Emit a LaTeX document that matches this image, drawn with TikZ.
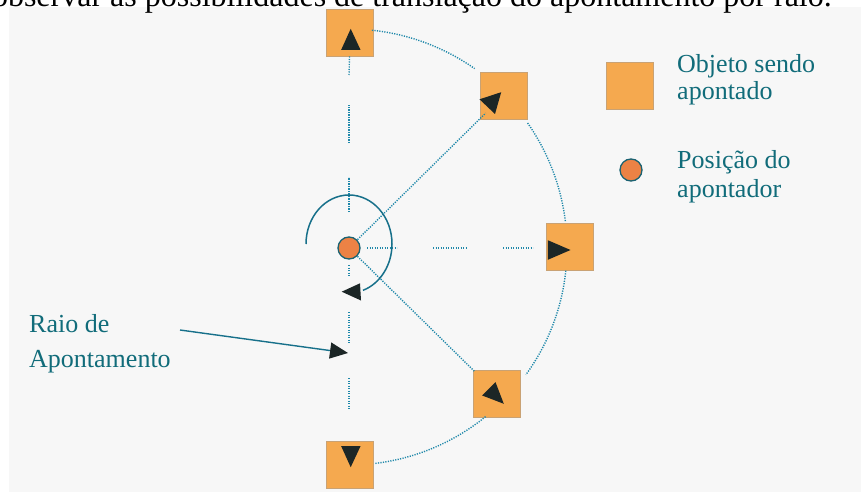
\documentclass[tikz,border=0pt]{standalone}
\usepackage{fontspec}
\setmainfont{Liberation Serif}
\usetikzlibrary{arrows.meta,calc}
\definecolor{panel}{HTML}{F7F7F7}
\definecolor{sq}{HTML}{F5A94F}
\definecolor{sqedge}{HTML}{C9A274}
\definecolor{ptr}{HTML}{EC8245}
\definecolor{ptredge}{HTML}{1A6272}
\definecolor{dotc}{HTML}{1F88AA}
\definecolor{arcc}{HTML}{17708A}
\definecolor{labc}{HTML}{116C7A}
\definecolor{tri}{HTML}{1C2626}
\tikzset{
  objbox/.style={draw=sqedge, line width=0.8pt, fill=sq, minimum size=47pt, inner sep=0pt, outer sep=0pt},
  pointerdot/.style={circle, draw=ptredge, line width=1.3pt, fill=ptr, minimum size=22pt, inner sep=0pt},
  rayline/.style={draw=dotc, line width=1.4pt, dash pattern=on 1.2pt off 1.3pt},
  headfill/.style={fill=tri},
  labtext/.style={text=labc, anchor=base west, align=left, inner sep=0pt},
}
\begin{document}
\begin{tikzpicture}[x=1pt,y=1pt]
\clip (0,0) rectangle (861,-492);
\fill[white] (0,0) rectangle (861,-492);
\fill[panel] (9,-7.5) rectangle (861,-492);
% caption line (cut off at top, as in the reference)
\node[anchor=base east, inner sep=0pt, font=\fontsize{32}{36}\selectfont] (cap) at (832,-6.5)
  {observar as possibilidades de translação do apontamento por raio.};

% pointer
\node[pointerdot] (P) at (349,-248) {};
% objects
\node[objbox] (T)  at (349.5,-32.5) {};
\node[objbox] (NE) at (503.5,-95.5) {};
\node[objbox] (E)  at (569.5,-246.5) {};
\node[objbox] (SE) at (497,-393.5) {};
\node[objbox] (B)  at (350,-465) {};

% rays (dotted dashes)
\draw[rayline] ($(P)+(0,36)$) -- ($(P)+(0,71)$);
\draw[rayline] ($(P)+(0,105)$) -- ($(P)+(0,143)$);
\draw[rayline] ($(P)+(0,173)$) -- (T.south);
\draw[rayline] ($(P)+(0,-17)$) -- ($(P)+(0,-29)$);
\draw[rayline] ($(P)+(0,-64)$) -- ($(P)+(0,-95)$);
\draw[rayline] ($(P)+(0,-130)$) -- ($(P)+(0,-162)$);
\draw[rayline] ($(P)+(18,0)$) -- ($(P)+(48,0)$);
\draw[rayline] ($(P)+(84,0)$) -- ($(P)+(118,0)$);
\draw[rayline] ($(P)+(154,0)$) -- ($(P)+(184,0)$);
\draw[rayline, shorten <=12pt, shorten >=25pt] (P.center) -- (NE.center);
\draw[rayline, shorten <=12pt, shorten >=31pt] (P.center) -- (SE.center);

% orbit of the objects
\draw[rayline] ([shift={(84:219)}]P.center) arc[start angle=84, end angle=55, radius=219];
\draw[rayline] ([shift={(35:218)}]P.center) arc[start angle=35, end angle=7, radius=218];
\draw[rayline] ([shift={(-6:218)}]P.center) arc[start angle=-6, end angle=-36, radius=215];
\draw[rayline] ([shift={(-51:217)}]P.center) arc[start angle=-51, end angle=-83, radius=217];

% arrowheads inside the objects
\fill[headfill] (341.2,-49.8) -- (350.7,-28.8) -- (360.5,-49.8) -- cycle;
\fill[headfill] (479.5,-99.3) -- (501.2,-92.2) -- (495,-114) -- cycle;
\fill[headfill] (547.8,-240.2) -- (570.5,-250) -- (547.8,-259.8) -- cycle;
\fill[headfill] (495.5,-382.2) -- (482.2,-395.5) -- (503.8,-403.8) -- cycle;
\fill[headfill] (341.2,-446.2) -- (360.5,-446.2) -- (350.7,-467.2) -- cycle;

% rotation around the pointer
\coordinate (rotstart) at (306,-244);
\draw[arcc, line width=1.5pt] (rotstart) arc[start angle=180, end angle=-71, x radius=43, y radius=49];
\fill[headfill] (341.7,-291.7) -- (360,-283.3) -- (361,-300.5) -- cycle;

% label with arrow
\node[labtext, font=\fontsize{26}{35}\selectfont] (raio) at (29,-367) {Raio de\\Apontamento};
\coordinate (rs) at (180,-330);
\coordinate (re) at (348,-353);
\draw[arcc, line width=1.4pt, -{Triangle[length=18pt,width=16pt,color=tri]}] (rs) -- (re);

% legend
\node[objbox] (legsq) at (630,-86) {};
\node[labtext, font=\fontsize{26}{28}\selectfont] (legsqt) at (677,-100) {Objeto sendo\\apontado};
\node[pointerdot] (legpt) at (631,-170) {};
\node[labtext, font=\fontsize{26}{29}\selectfont] (legptt) at (677,-197) {Posição do\\apontador};
\end{tikzpicture}
\end{document}
